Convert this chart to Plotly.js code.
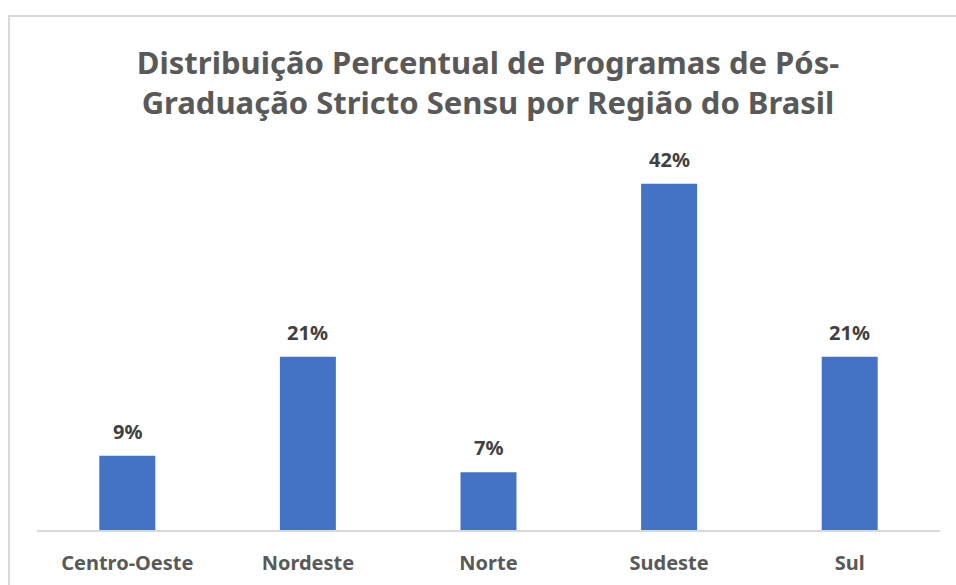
<!DOCTYPE html>
<html>
<head>
<meta charset="utf-8">
<script src="https://cdn.plot.ly/plotly-3.0.1.min.js"></script>
<style>
  html, body { margin: 0; padding: 0; background: #ffffff; }
  #wrap { position: relative; width: 956px; height: 585px; overflow: hidden; }
  #frame { position: absolute; left: 8px; top: 15px; width: 1000px; height: 600px; border: 2px solid #D9D9D9; box-sizing: border-box; pointer-events: none; }
  #chart { position: absolute; left: 0; top: 0; width: 956px; height: 585px; }
</style>
</head>
<body>
<div id="wrap">
  <div id="chart"></div>
  <div id="frame"></div>
</div>
<script>
const categories = ["Centro-Oeste", "Nordeste", "Norte", "Sudeste", "Sul"];
const percentValues = [9, 21, 7, 42, 21];
const titleText = "Distribuição Percentual de Programas de Pós-<br>Graduação Stricto Sensu por Região do Brasil";

const FONT = "'Noto Sans', 'Open Sans', sans-serif";

const trace = {
  type: "bar",
  x: categories,
  y: percentValues,
  marker: { color: "#4472C4", line: { color: "#4472C4", width: 0 } },
  hoverinfo: "x+y"
};

const annotations = categories.map((c, i) => ({
  x: c,
  y: percentValues[i],
  xref: "x",
  yref: "y",
  text: "<b>" + percentValues[i] + "%</b>",
  showarrow: false,
  yanchor: "bottom",
  yshift: 9,
  font: { family: FONT, size: 20, color: "#404040" }
}));

const layout = {
  width: 956,
  height: 585,
  paper_bgcolor: "#ffffff",
  plot_bgcolor: "#ffffff",
  margin: { l: 37, r: 16, t: 159, b: 55 },
  bargap: 0.69,
  showlegend: false,
  title: {
    text: "<b>" + titleText + "</b>",
    font: { family: FONT, size: 31, color: "#595959" },
    xref: "container",
    yref: "container",
    x: 488 / 956,
    xanchor: "center",
    y: 1 - 74 / 585,
    yanchor: "top"
  },
  xaxis: {
    showline: true,
    linecolor: "#D9D9D9",
    linewidth: 2,
    ticks: "",
    showgrid: false,
    zeroline: false,
    ticklabelstandoff: 14,
    tickfont: { family: FONT, size: 20, color: "#595959", weight: "bold" }
  },
  yaxis: {
    range: [0, 45],
    visible: false,
    showgrid: false,
    zeroline: false
  },
  annotations: annotations
};

Plotly.newPlot("chart", [trace], layout, { displayModeBar: false, staticPlot: true });
</script>
</body>
</html>
